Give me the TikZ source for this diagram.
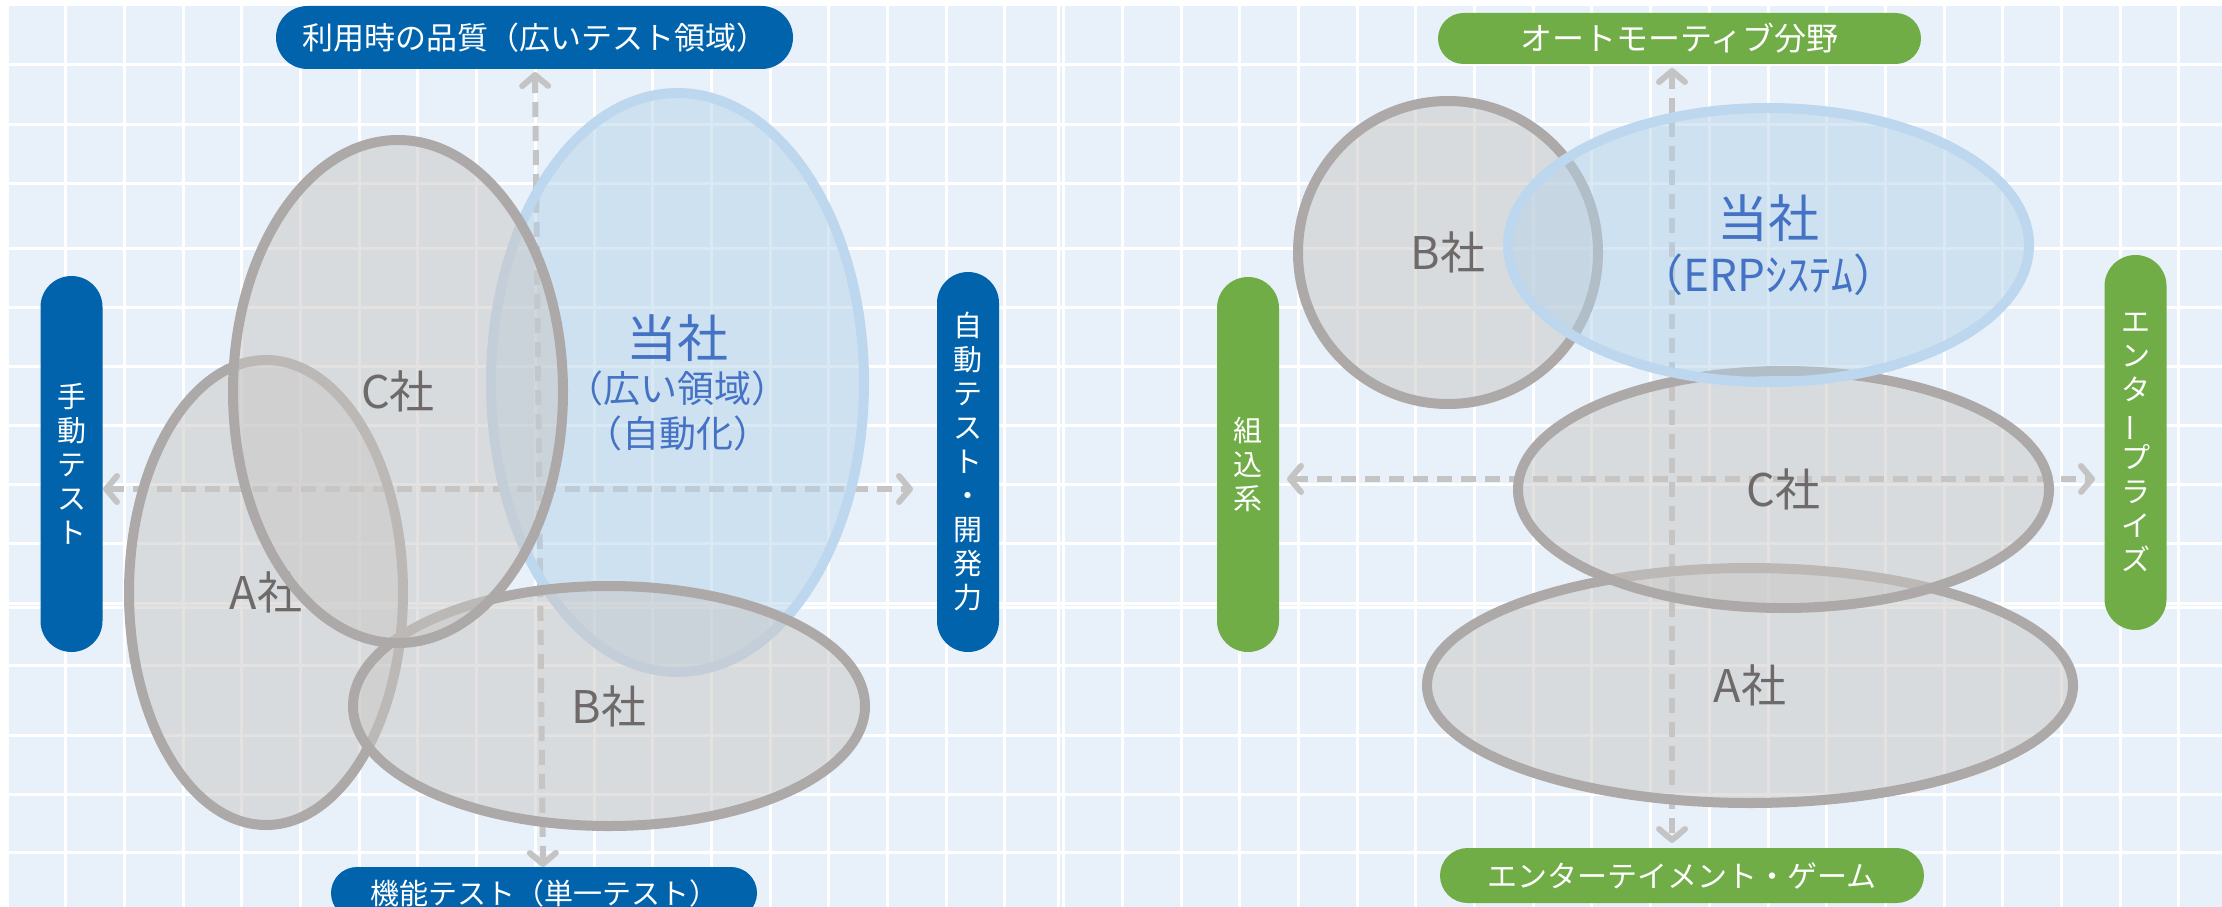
\documentclass[tikz,border=0pt]{standalone}
\usepackage{fontspec}
\usepackage{graphicx}
\setmainfont{Noto Sans CJK JP}
\usetikzlibrary{shapes.geometric, arrows.meta}

\definecolor{bgblue}{RGB}{232,241,249}
\definecolor{pillblue}{RGB}{0,99,172}
\definecolor{pillgreen}{RGB}{112,173,71}
\definecolor{rivalfill}{RGB}{202,199,197}
\definecolor{rivalline}{RGB}{173,169,168}
\definecolor{rivaltext}{RGB}{110,106,105}
\definecolor{ownfill}{RGB}{182,211,233}
\definecolor{ownline}{RGB}{189,215,238}
\definecolor{owntext}{RGB}{68,114,196}
\definecolor{axisgray}{RGB}{196,196,196}

\tikzset{
  gridline/.style={white, line width=3pt},
  axis/.style={draw=axisgray, line width=6pt, dash pattern=on 15pt off 9pt,
    arrows={Straight Barb[length=11pt,width=26pt,round]-Straight Barb[length=11pt,width=26pt,round]}},
  hpill/.style={rectangle, fill=#1, text=white, inner sep=0pt, font=\fontsize{30}{34}\selectfont},
  vpill/.style={rectangle, fill=#1, text=white, inner sep=0pt, minimum width=62pt,
    rounded corners=31pt, align=center, font=\fontsize{29}{34}\selectfont},
  rival/.style={ellipse, draw=rivalline, line width=10pt, fill=rivalfill, fill opacity=0.5,
    text opacity=1, text=rivaltext, inner sep=0pt, font=\fontsize{45}{50}\selectfont},
  own/.style={ellipse, draw=ownline, line width=10pt, fill=ownfill, fill opacity=0.5,
    text opacity=1, text=owntext, inner sep=0pt, align=center}
}

\begin{document}
\begin{tikzpicture}[x=1pt, y=-1pt]
\useasboundingbox (0,0) rectangle (2222,907);
\fill[white] (0,0) rectangle (2222,907);
\fill[bgblue] (6,6) rectangle (2222,907);

% grid
\foreach \k in {0,...,37}
  \draw[gridline] ({7+58.7*\k},6) -- ({7+58.7*\k},907);
\draw[gridline] (1058,6) -- (1058,907);
\foreach \y in {65,124,183,248,307,366,425,484,543,603,607,665,735,794,852}
  \draw[gridline] (6,\y) -- (2222,\y);

% axes
\coordinate (lAxN) at (535,72);
\coordinate (lAxS) at (543,867);
\coordinate (lAxW) at (103,489);
\coordinate (lAxE) at (913,489);
\coordinate (rAxN) at (1672,68);
\coordinate (rAxS) at (1672,843);
\coordinate (rAxW) at (1287,479);
\coordinate (rAxE) at (2095,479);
\draw[axis] (lAxW) -- (lAxE);
\draw[axis] (lAxN) -- (lAxS);
\draw[axis] (rAxW) -- (rAxE);
\draw[axis] (rAxN) -- (rAxS);

% axis labels
\node[hpill=pillblue, minimum width=517pt, minimum height=63pt, rounded corners=31.5pt, font=\fontsize{31}{34}\selectfont] (quality) at (534.5,37.5) {利用時の品質（広いテスト領域）};
\node[hpill=pillblue, minimum width=426pt, minimum height=52pt, rounded corners=26pt, font=\fontsize{29}{34}\selectfont] (function) at (544,893) {機能テスト（単一テスト）};
\node[vpill=pillblue, minimum height=376pt] (manual) at (71.5,464) {手\\動\\テ\\ス\\ト};
\node[vpill=pillblue, minimum height=380pt] (autotest) at (968,462) {自\\動\\テ\\ス\\ト\\・\\開\\発\\力};
\node[hpill=pillgreen, minimum width=483pt, minimum height=51pt, rounded corners=25.5pt, font=\fontsize{32}{34}\selectfont] (automotive) at (1679.5,38.5) {オートモーティブ分野};
\node[hpill=pillgreen, minimum width=484pt, minimum height=55pt, rounded corners=27.5pt] (game) at (1682,875.5) {エンターテイメント・ゲーム};
\node[vpill=pillgreen, minimum height=375pt] (embedded) at (1248,464.5) {組\\込\\系};
\node[vpill=pillgreen, minimum height=375pt] (enterprise) at (2135.5,442.5) {エ\\ン\\タ\\\rotatebox[origin=c]{90}{ー}\\プ\\ラ\\イ\\ズ};

% left map
\node[own, minimum width=373pt, minimum height=579pt, font=\fontsize{37}{45}\selectfont] (ownL) at (677.5,382.5) {{\fontsize{51}{51}\selectfont 当社}\\（広い領域）\\（自動化）};
\node[rival, minimum width=274pt, minimum height=465pt] (compAL) at (266,592.5) {A社};
\node[rival, minimum width=512pt, minimum height=240pt] (compBL) at (609,706) {B社};
\node[rival, minimum width=330pt, minimum height=503pt] (compCL) at (398,391.5) {C社};

% right map
\node[rival, minimum width=646pt, minimum height=235pt] (compAR) at (1750,685.5) {A社};
\node[rival, minimum width=531pt, minimum height=237pt] (compCR) at (1783.5,489.5) {C社};
\node[rival, minimum width=300pt, minimum height=303pt] (compBR) at (1448,252.5) {B社};
\node[own, minimum width=521pt, minimum height=274pt, font=\fontsize{44}{54}\selectfont] (ownR) at (1768.5,245) {{\fontsize{51}{51}\selectfont 当社}\\（ERPｼｽﾃﾑ）};
\end{tikzpicture}
\end{document}
